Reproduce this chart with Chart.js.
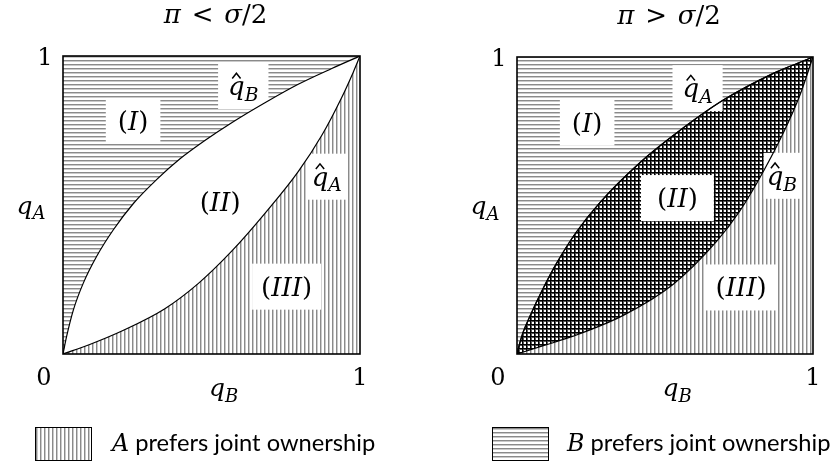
<!DOCTYPE html>
<html><head><meta charset="utf-8">
<script src="https://cdn.jsdelivr.net/npm/chart.js@4.4.1/dist/chart.umd.min.js"></script>
<style>
html,body{margin:0;padding:0;background:#fff;}
#wrap{position:relative;width:836px;height:467px;overflow:hidden;background:#fff;}
.c{position:absolute;top:0;width:418px;height:467px;}
</style></head><body>
<div id="wrap">
<div class="c" style="left:0"><canvas id="c1" width="418" height="467"></canvas></div>
<div class="c" style="left:418px"><canvas id="c2" width="418" height="467"></canvas></div>
</div>
<script>
// ---- data (q_B on x, q_A on y) ----
const tickLabels = ['0', '1'];
// left panel (pi < sigma/2)
const leftQhatBX = [0, 0.012, 0.035, 0.068, 0.113, 0.169, 0.237, 0.315, 0.394, 0.48, 0.568, 0.680, 0.792, 0.905, 1];
const leftQhatBY = [0, 0.058, 0.148, 0.237, 0.327, 0.416, 0.505, 0.585, 0.655, 0.718, 0.776, 0.843, 0.905, 0.958, 1];
const leftQhatAX = [0, 0.09, 0.2, 0.343, 0.456, 0.568, 0.68, 0.792, 0.871, 0.938, 0.977, 1];
const leftQhatAY = [0, 0.032, 0.078, 0.152, 0.237, 0.345, 0.472, 0.612, 0.733, 0.86, 0.945, 1];
// right panel (pi > sigma/2)
const rightQhatAX = [0, 0.008, 0.021, 0.044, 0.089, 0.134, 0.2, 0.28, 0.416, 0.54, 0.697, 0.866, 0.95, 1];
const rightQhatAY = [0, 0.032, 0.074, 0.128, 0.222, 0.306, 0.41, 0.51, 0.645, 0.745, 0.855, 0.945, 0.98, 1];
const rightQhatBX = [0, 0.089, 0.19, 0.359, 0.528, 0.675, 0.753, 0.81, 0.9, 0.956, 1];
const rightQhatBY = [0, 0.028, 0.06, 0.13, 0.235, 0.38, 0.482, 0.575, 0.745, 0.872, 1];
const panelTitles = ['π < σ/2', 'π > σ/2'];
const legendLabels = ['A prefers joint ownership', 'B prefers joint ownership'];

const SERIF = '"DejaVu Serif"';
const SANS = 'Lato';

function pts(xs, ys){ return xs.map((x,i)=>({x:x, y:ys[i]})); }

function makePattern(kind){
  const c = document.createElement('canvas'); c.width = 4; c.height = 4;
  const g = c.getContext('2d');
  g.fillStyle = '#fff'; g.fillRect(0,0,4,4);
  if (kind === 'h') { g.fillStyle = '#8a8a8a'; g.fillRect(0,0,4,1); g.fillStyle = '#cacaca'; g.fillRect(0,1,4,1); }
  if (kind === 'v') { g.fillStyle = '#8a8a8a'; g.fillRect(0,0,1,4); g.fillStyle = '#cacaca'; g.fillRect(1,0,1,4); }
  if (kind === 'x') {
    g.fillStyle = '#555'; g.fillRect(0,1,4,1); g.fillRect(1,0,1,4);
    g.fillStyle = '#000'; g.fillRect(0,0,4,1); g.fillRect(0,0,1,4);
  }
  return g.createPattern(c, 'repeat');
}
const patH = makePattern('h'), patV = makePattern('v'), patX = makePattern('x');

function layoutRich(ctx, segs, size){
  let w = 0; const out = [];
  for (const s of segs) {
    const sz = s.sub ? size*0.72 : size;
    const f = (s.it ? 'italic ' : '') + sz + 'px ' + (s.sans ? SANS : SERIF);
    ctx.font = f; const tw = ctx.measureText(s.t).width;
    out.push(Object.assign({}, s, {f:f, sz:sz, x:w, w:tw})); w += tw;
  }
  return {w:w, out:out};
}
function drawRich(ctx, segs, size, x, yBase, align){
  const L = layoutRich(ctx, segs, size);
  const x0 = align === 'center' ? x - L.w/2 : (align === 'right' ? x - L.w : x);
  for (const s of L.out) {
    ctx.font = s.f; ctx.textAlign = 'left'; ctx.textBaseline = 'alphabetic'; ctx.fillStyle = '#000';
    const yy = yBase + (s.sub ? size*0.22 : 0);
    ctx.fillText(s.t, x0 + s.x, yy);
    if (s.hat) {
      const cx = x0 + s.x + s.w*0.5, hy = yy - size*0.64;
      ctx.beginPath(); ctx.moveTo(cx - size*0.16, hy); ctx.lineTo(cx, hy - size*0.2); ctx.lineTo(cx + size*0.16, hy);
      ctx.lineWidth = 1.5; ctx.strokeStyle = '#000'; ctx.stroke();
    }
  }
  return L.w;
}
const Q = (sub, hat) => [{t:'q', it:true, hat:!!hat}, {t:sub, it:true, sub:true}];
const ROMAN = (r) => [{t:'('}, {t:r, it:true}, {t:')'}];
const LABEL_SIZE = 26;

function figPlugin(fig){
  return {
    id: 'fig' + fig.id,
    beforeDatasetsDraw(chart){
      // white boxes behind region labels (curves are drawn over them)
      const ctx = chart.ctx, xs = chart.scales.x, ys = chart.scales.y;
      ctx.save();
      for (const L of fig.labels) {
        if (!L.box) continue;
        const px = xs.getPixelForValue(L.x), py = ys.getPixelForValue(L.y);
        const w = layoutRich(ctx, L.segs, LABEL_SIZE).w;
        ctx.fillStyle = '#fff'; ctx.fillRect(px - w/2 - L.padX, py - 23, w + 2*L.padX, 46);
      }
      ctx.restore();
    },
    afterDatasetsDraw(chart){
      const ctx = chart.ctx, a = chart.chartArea, xs = chart.scales.x, ys = chart.scales.y;
      ctx.save();
      for (const L of fig.labels) {
        const px = xs.getPixelForValue(L.x), py = ys.getPixelForValue(L.y);
        drawRich(ctx, L.segs, LABEL_SIZE, px, py + 9, 'center');
      }
      // frame
      ctx.strokeStyle = '#000'; ctx.lineWidth = 1.6;
      ctx.strokeRect(a.left, a.top, a.right - a.left, a.bottom - a.top);
      // tick labels
      ctx.font = '24px ' + SERIF; ctx.fillStyle = '#000'; ctx.textAlign = 'center'; ctx.textBaseline = 'alphabetic';
      ctx.fillText(tickLabels[0], xs.getPixelForValue(0) - 19, ys.getPixelForValue(0) + 31);
      ctx.fillText(tickLabels[1], xs.getPixelForValue(1), ys.getPixelForValue(0) + 31);
      ctx.fillText(tickLabels[1], xs.getPixelForValue(0) - 18, ys.getPixelForValue(1) + 9);
      // axis titles
      drawRich(ctx, Q('B'), 25, (a.left + a.right)/2 + 12, a.bottom + 42, 'center');
      drawRich(ctx, Q('A'), 25, a.left - 32, ys.getPixelForValue(0.49) + 6, 'center');
      // panel title
      const t = fig.title;
      drawRich(ctx, [{t:t[0], it:true}, {t:' \u200A' + t.slice(2,3) + '\u200A '}, {t:t[4], it:true}, {t:t.slice(5)}], 26, (a.left + a.right)/2 + 4, a.top - 33, 'center');
      // legend entry
      const lg = fig.legend;
      const bx = a.left + lg.dx, by = 427;
      ctx.fillStyle = lg.pat; ctx.fillRect(bx, by, 56, 33);
      ctx.strokeStyle = '#000'; ctx.lineWidth = 1; ctx.strokeRect(bx + 0.5, by + 0.5, 56, 33);
      const txt = lg.text;
      drawRich(ctx, [{t:txt[0], it:true}, {t:txt.slice(1), sans:true}], 23.7, a.left + lg.tx, 451, 'left');
      ctx.restore();
    }
  };
}

function makeChart(canvasId, datasets, pad, fig){
  return new Chart(document.getElementById(canvasId), {
    type: 'line',
    data: { datasets: datasets },
    options: {
      responsive: false, animation: false, devicePixelRatio: 1,
      layout: { padding: pad },
      scales: {
        x: { type: 'linear', min: 0, max: 1, display: false },
        y: { type: 'linear', min: 0, max: 1, display: false }
      },
      elements: { point: { radius: 0 }, line: { cubicInterpolationMode: 'monotone', borderColor: '#000', borderWidth: 1.2 } },
      plugins: { legend: { display: false }, tooltip: { enabled: false }, title: { display: false },
                 filler: { drawTime: 'beforeDatasetsDraw', propagate: false } }
    },
    plugins: [figPlugin(fig)]
  });
}

makeChart('c1', [
  { label: 'q̂_B', data: pts(leftQhatBX, leftQhatBY), fill: 'end', backgroundColor: patH, borderColor: '#000', borderWidth: 1.2 },
  { label: 'q̂_A', data: pts(leftQhatAX, leftQhatAY), fill: 'start', backgroundColor: patV, borderColor: '#000', borderWidth: 1.2 }
], {left: 63, right: 58, top: 56, bottom: 113}, {
  id: 1, title: panelTitles[0],
  legend: { dx: -28, tx: 49, pat: patV, text: legendLabels[0] },
  labels: [
    { segs: ROMAN('I'), x: 0.236, y: 0.782, box: true, padX: 12 },
    { segs: Q('B', true), x: 0.607, y: 0.899, box: true, padX: 10 },
    { segs: ROMAN('II'), x: 0.529, y: 0.51, box: false, padX: 0 },
    { segs: Q('A', true), x: 0.888, y: 0.595, box: true, padX: 5 },
    { segs: ROMAN('III'), x: 0.753, y: 0.226, box: true, padX: 9 }
  ]
});

makeChart('c2', [
  { label: 'q̂_A', data: pts(rightQhatAX, rightQhatAY), fill: 'end', backgroundColor: patH, borderColor: '#000', borderWidth: 1.2 },
  { label: 'q̂_B', data: pts(rightQhatBX, rightQhatBY), fill: 'start', backgroundColor: patV, borderColor: '#000', borderWidth: 1.2 },
  { label: 'both', data: pts(rightQhatAX, rightQhatAY), fill: 1, backgroundColor: patX, borderColor: '#000', borderWidth: 1.2 }
], {left: 99, right: 23, top: 57, bottom: 113}, {
  id: 2, title: panelTitles[1],
  legend: { dx: -25, tx: 50, pat: patH, text: legendLabels[1] },
  labels: [
    { segs: ROMAN('I'), x: 0.237, y: 0.779, box: true, padX: 12 },
    { segs: Q('A', true), x: 0.61, y: 0.895, box: true, padX: 10 },
    { segs: ROMAN('II'), x: 0.542, y: 0.525, box: true, padX: 16 },
    { segs: Q('B', true), x: 0.895, y: 0.6, box: true, padX: 3 },
    { segs: ROMAN('III'), x: 0.757, y: 0.224, box: true, padX: 10 }
  ]
});
</script>
</body></html>
